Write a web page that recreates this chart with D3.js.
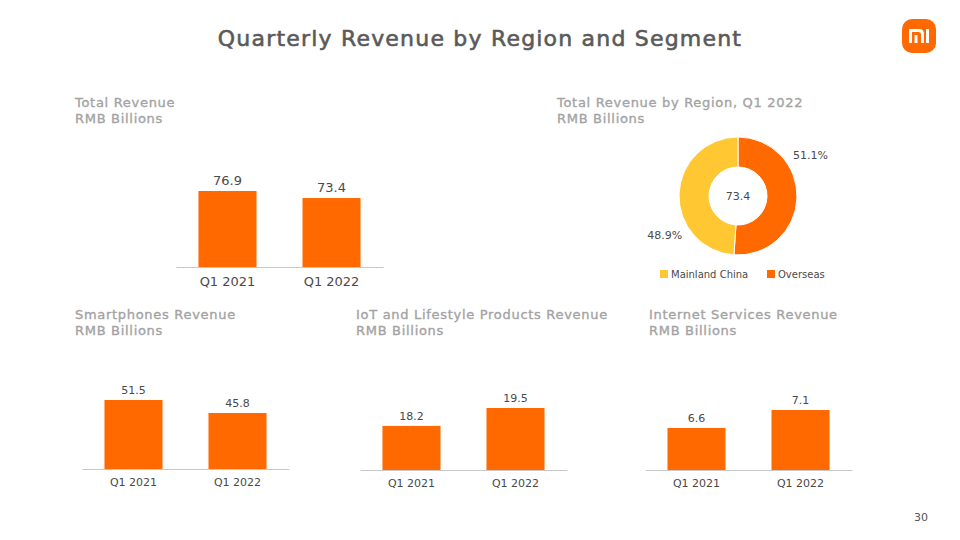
<!DOCTYPE html>
<html>
<head>
<meta charset="utf-8">
<script src="https://cdn.jsdelivr.net/npm/d3@7"></script>
<style>
  html, body { margin: 0; padding: 0; background: #fff; }
  svg text { font-family: "DejaVu Sans", "Open Sans", sans-serif; }
</style>
</head>
<body>
<svg id="chart" width="960" height="540"></svg>
<script>
// 数据
const quarters = ["Q1 2021", "Q1 2022"];
const totalRevenue = [76.9, 73.4];
const smartphonesRevenue = [51.5, 45.8];
const iotRevenue = [18.2, 19.5];
const internetRevenue = [6.6, 7.1];

const regions = ["Mainland China", "Overseas"];
const regionShare = [48.9, 51.1];
const regionTotal = 73.4;

const ORANGE = "#ff6900";
const YELLOW = "#ffc832";
const TITLE_GREY = "#a3a3a3";
const TEXT_DARK = "#4a4a4a";

const svg = d3.select("#chart");

// 主标题
svg.append("text")
  .attr("x", 480)
  .attr("y", 46)
  .attr("text-anchor", "middle")
  .attr("fill", "#5a5a5a")
  .attr("stroke", "#5a5a5a")
  .attr("stroke-width", 0.6)
  .attr("font-size", 22)
  .attr("letter-spacing", 1.2)
  .text("Quarterly Revenue by Region and Segment");

// logo
const logo = svg.append("g").attr("transform", "translate(902,19)");
logo.append("rect")
  .attr("width", 34).attr("height", 34)
  .attr("rx", 10).attr("ry", 10)
  .attr("fill", ORANGE);
logo.append("path")
  .attr("fill", "#fff")
  .attr("d", "M7,10 H17 Q22,10 22,15 V24 H19 V15.5 Q19,13 16.5,13 H10 V24 H7 Z M12.5,16 H15.5 V24 H12.5 Z M24,10 H27 V24 H24 Z");

// 页码
svg.append("text")
  .attr("x", 921)
  .attr("y", 521)
  .attr("text-anchor", "middle")
  .attr("fill", "#555")
  .attr("font-size", 11)
  .text("30");

function panelTitle(x, y, lines) {
  lines.forEach((l, i) => {
    svg.append("text")
      .attr("x", x)
      .attr("y", y + i * 16)
      .attr("fill", TITLE_GREY)
      .attr("stroke", TITLE_GREY)
      .attr("stroke-width", 0.35)
      .attr("font-size", 13)
      .attr("letter-spacing", 0.7)
      .text(l);
  });
}

// 柱状图面板
function barPanel(opts) {
  const g = svg.append("g");
  const x = d3.scaleBand()
    .domain(quarters)
    .range([opts.x0, opts.x0 + 207])
    .paddingInner(0.442)
    .paddingOuter(0.216);
  const y = d3.scaleLinear()
    .domain([opts.floor, d3.max(opts.values)])
    .range([opts.baseline, opts.baseline - opts.maxHeight]);

  g.selectAll("rect.bar")
    .data(opts.values)
    .enter()
    .append("rect")
    .attr("class", "bar")
    .attr("x", (_, i) => x(quarters[i]))
    .attr("width", x.bandwidth())
    .attr("y", d => y(d))
    .attr("height", d => opts.baseline - y(d))
    .attr("fill", ORANGE);

  g.selectAll("text.val")
    .data(opts.values)
    .enter()
    .append("text")
    .attr("class", "val")
    .attr("x", (_, i) => x(quarters[i]) + x.bandwidth() / 2)
    .attr("y", d => y(d) - 6)
    .attr("text-anchor", "middle")
    .attr("fill", TEXT_DARK)
    .attr("font-size", opts.fontSize)
    .text(d => d.toFixed(1));

  const axis = g.append("g")
    .attr("transform", `translate(0,${opts.baseline})`)
    .call(d3.axisBottom(x).tickSize(0).tickPadding(opts.tickPad));
  axis.select(".domain").attr("stroke", "#c8c8c8").attr("stroke-width", 1.2);
  axis.selectAll("text")
    .attr("fill", TEXT_DARK)
    .attr("font-size", opts.fontSize)
    .style("font-family", "'DejaVu Sans', sans-serif");

  panelTitle(opts.tx, opts.ty, opts.title);
}

barPanel({
  values: totalRevenue, x0: 176, baseline: 267, floor: 39, maxHeight: 76,
  fontSize: 13, tickPad: 10, tx: 75, ty: 107, title: ["Total Revenue", "RMB Billions"]
});
barPanel({
  values: smartphonesRevenue, x0: 82, baseline: 469, floor: 21.2, maxHeight: 69,
  fontSize: 11, tickPad: 9, tx: 75, ty: 319, title: ["Smartphones Revenue", "RMB Billions"]
});
barPanel({
  values: iotRevenue, x0: 360, baseline: 470, floor: 15, maxHeight: 62,
  fontSize: 11, tickPad: 9, tx: 356, ty: 319, title: ["IoT and Lifestyle Products Revenue", "RMB Billions"]
});
barPanel({
  values: internetRevenue, x0: 645, baseline: 470, floor: 5.43, maxHeight: 60,
  fontSize: 11, tickPad: 9, tx: 649, ty: 319, title: ["Internet Services Revenue", "RMB Billions"]
});

// 环形图
panelTitle(557, 107, ["Total Revenue by Region, Q1 2022", "RMB Billions"]);

const cx = 738, cy = 196;
const donutData = [
  { name: regions[1], value: regionShare[1], color: ORANGE },
  { name: regions[0], value: regionShare[0], color: YELLOW }
];
const pie = d3.pie().sort(null).value(d => d.value);
const arc = d3.arc().innerRadius(29).outerRadius(59);
const donut = svg.append("g").attr("transform", `translate(${cx},${cy})`);
donut.selectAll("path")
  .data(pie(donutData))
  .enter()
  .append("path")
  .attr("d", arc)
  .attr("fill", d => d.data.color)
  .attr("stroke", "#fff")
  .attr("stroke-width", 1);

donut.append("text")
  .attr("y", 4)
  .attr("text-anchor", "middle")
  .attr("fill", TEXT_DARK)
  .attr("font-size", 11)
  .text(regionTotal.toFixed(1));

// 百分比标签（放在扇区前三分之一处的外侧）
const labelArc = d3.arc().innerRadius(83).outerRadius(83);
donut.selectAll("text.pct")
  .data(pie(donutData))
  .enter()
  .append("text")
  .attr("class", "pct")
  .attr("transform", d => {
    const a = d.startAngle + (d.endAngle - d.startAngle) * 0.33;
    const p = labelArc.centroid({ startAngle: a, endAngle: a });
    return `translate(${p[0]},${p[1] + 4})`;
  })
  .attr("text-anchor", "middle")
  .attr("fill", TEXT_DARK)
  .attr("font-size", 11)
  .text(d => d.data.value.toFixed(1) + "%");

// 图例
const legendX = [660, 767];
const legend = svg.append("g").attr("transform", "translate(0,274)");
regions.forEach((r, i) => {
  const item = legend.append("g").attr("transform", `translate(${legendX[i]},0)`);
  item.append("rect")
    .attr("x", 0).attr("y", -4)
    .attr("width", 8).attr("height", 8)
    .attr("fill", i === 0 ? YELLOW : ORANGE);
  item.append("text")
    .attr("x", 11).attr("y", 4)
    .attr("fill", TEXT_DARK)
    .attr("font-size", 10)
    .text(r);
});
</script>
</body>
</html>
